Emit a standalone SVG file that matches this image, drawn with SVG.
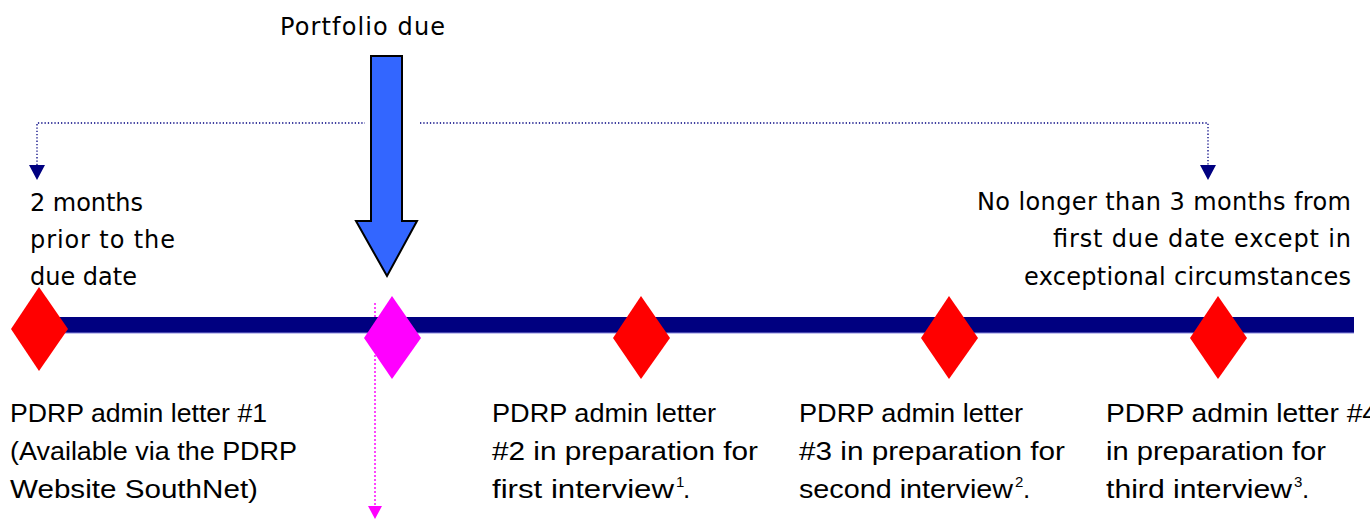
<svg xmlns="http://www.w3.org/2000/svg" width="1370" height="519" viewBox="0 0 1370 519">
<style>
.top{font-family:"DejaVu Sans",sans-serif;font-size:24px;fill:#000}
.bot{font-family:"Liberation Sans",Arial,sans-serif;font-size:26px;fill:#000}
.sup{font-family:"Liberation Sans",Arial,sans-serif;font-size:15px;fill:#000}
.ttl{font-family:"DejaVu Sans",sans-serif;font-size:24px;fill:#000}
.navdot{stroke:#000080;stroke-width:1.3;stroke-dasharray:1.3 2;fill:none}
.magdot{stroke:#ff44ff;stroke-width:2;stroke-dasharray:2 2;fill:none}
.red{fill:#ff0000}
.mag{fill:#ff00ff}
</style>
<rect width="1370" height="519" fill="#ffffff"/>
<g id="connectors">
<polyline class="navdot" points="37,165 37,123 365,123"/>
<polyline class="navdot" points="420,123 1208,123 1208,165"/>
<polygon points="29,165 45,165 37,180" fill="#000080"/>
<polygon points="1200,165 1216,165 1208,180" fill="#000080"/>
<line class="magdot" x1="375" y1="303" x2="375" y2="507"/>
<polygon points="368,506 382,506 375,519" fill="#ff00ff"/>
</g>
<g id="timeline">
<rect x="40" y="317" width="1314" height="16" fill="#000080"/>
<line x1="40" y1="333" x2="1354" y2="333" stroke="#8888dd" stroke-width="1"/>
</g>
<g id="portfolio-arrow">
<polygon points="371,56 402,56 402,221 417,221 387,276 356,221 371,221" fill="#3366ff" stroke="#000" stroke-width="2" stroke-linejoin="miter"/>
<text class="ttl" x="280" y="35" textLength="165">Portfolio due</text>
</g>
<g id="note-left">
<text class="top" x="30" y="211" textLength="113">2 months</text>
<text class="top" x="30" y="248" textLength="145">prior to the</text>
<text class="top" x="30" y="285" textLength="107">due date</text>
</g>
<g id="note-right">
<text class="top" x="977" y="210" textLength="374">No longer than 3 months from</text>
<text class="top" x="1053" y="247" textLength="298">first due date except in</text>
<text class="top" x="1024" y="285" textLength="327">exceptional circumstances</text>
</g>
<g id="milestone-1">
<polygon class="red" points="39,287 68,329 39,371 11,329"/>
<text class="bot" x="10" y="422" textLength="257" lengthAdjust="spacingAndGlyphs">PDRP admin letter #1</text>
<text class="bot" x="10" y="460" textLength="287" lengthAdjust="spacingAndGlyphs">(Available via the PDRP</text>
<text class="bot" x="10" y="498" textLength="248" lengthAdjust="spacingAndGlyphs">Website SouthNet)</text>
</g>
<g id="milestone-due">
<polygon class="mag" points="392,296 421,338 392,379 364,338"/>
</g>
<g id="milestone-2">
<polygon class="red" points="641,296 670,338 641,379 613,338"/>
<text class="bot" x="492" y="422" textLength="224" lengthAdjust="spacingAndGlyphs">PDRP admin letter</text>
<text class="bot" x="492" y="460" textLength="266" lengthAdjust="spacingAndGlyphs">#2 in preparation for</text>
<text class="bot" x="492" y="498" textLength="182" lengthAdjust="spacingAndGlyphs">first interview</text>
<text class="sup" x="676" y="487">1</text>
<text class="bot" x="683" y="498">.</text>
</g>
<g id="milestone-3">
<polygon class="red" points="949,296 978,338 949,379 921,338"/>
<text class="bot" x="799" y="422" textLength="224" lengthAdjust="spacingAndGlyphs">PDRP admin letter</text>
<text class="bot" x="799" y="460" textLength="266" lengthAdjust="spacingAndGlyphs">#3 in preparation for</text>
<text class="bot" x="799" y="498" textLength="214" lengthAdjust="spacingAndGlyphs">second interview</text>
<text class="sup" x="1015" y="487">2</text>
<text class="bot" x="1023" y="498">.</text>
</g>
<g id="milestone-4">
<polygon class="red" points="1218,296 1247,338 1218,379 1190,338"/>
<text class="bot" x="1106" y="422" textLength="272" lengthAdjust="spacingAndGlyphs">PDRP admin letter #4</text>
<text class="bot" x="1106" y="460" textLength="220" lengthAdjust="spacingAndGlyphs">in preparation for</text>
<text class="bot" x="1106" y="498" textLength="186" lengthAdjust="spacingAndGlyphs">third interview</text>
<text class="sup" x="1294" y="487">3</text>
<text class="bot" x="1302" y="498">.</text>
</g>
</svg>
